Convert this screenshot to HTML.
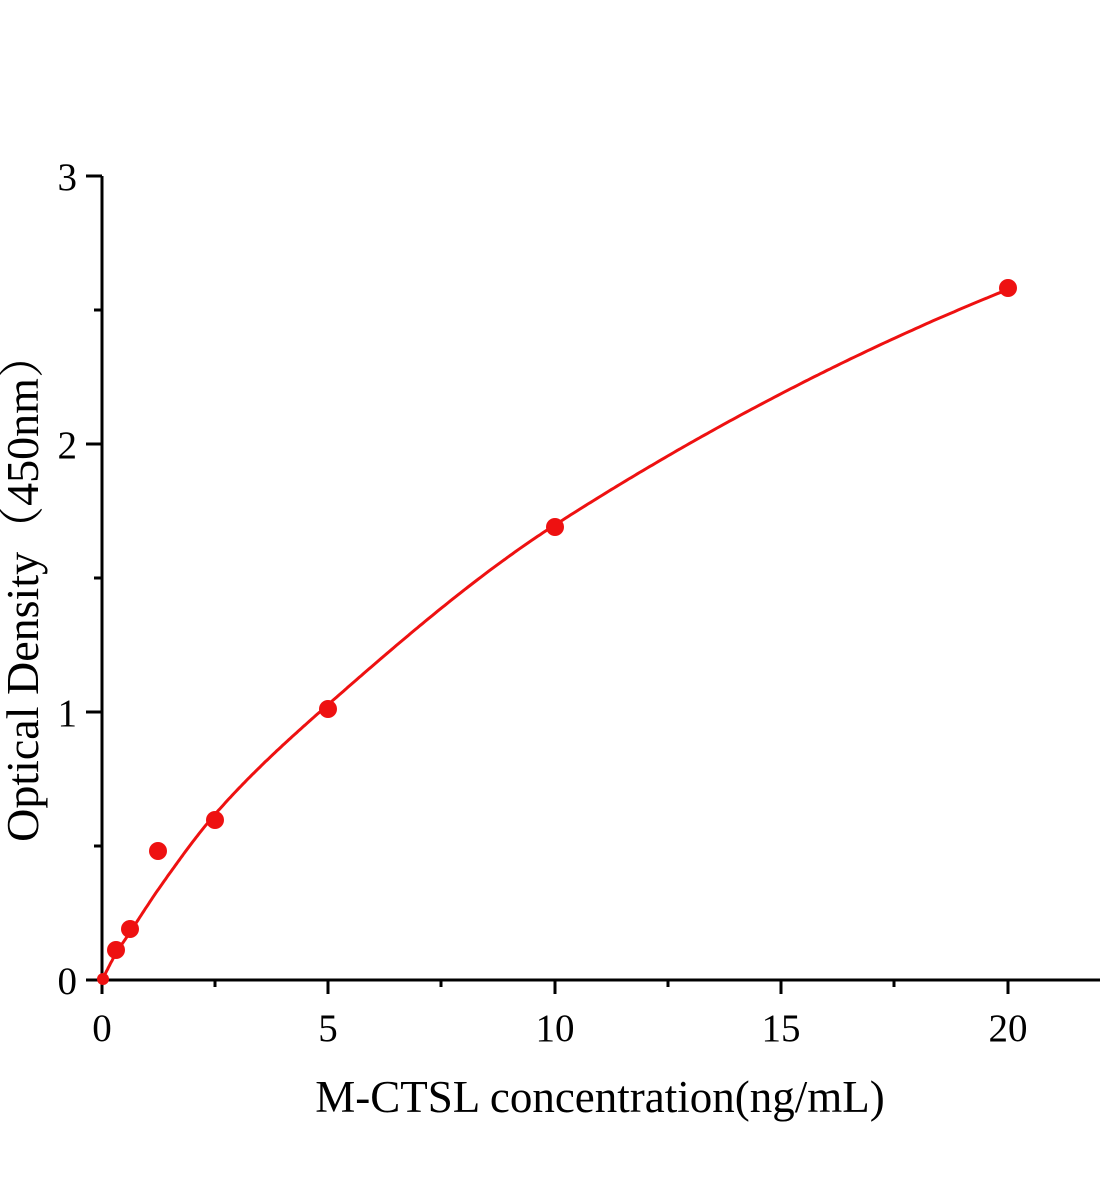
<!DOCTYPE html>
<html><head><meta charset="utf-8"><style>
html,body{margin:0;padding:0;background:#fff;}
svg{display:block;}
text{font-family:"Liberation Serif","Noto Serif CJK SC",serif;fill:#000;}
</style></head><body>
<svg id="s" width="1104" height="1200" viewBox="0 0 1104 1200" xmlns="http://www.w3.org/2000/svg">
<g stroke="#000" stroke-width="3" fill="none">
<line x1="102" y1="176" x2="102" y2="981"/>
<line x1="100" y1="980" x2="1100" y2="980"/>
<line x1="86" y1="176" x2="102" y2="176"/>
<line x1="86" y1="444" x2="102" y2="444"/>
<line x1="86" y1="712" x2="102" y2="712"/>
<line x1="86" y1="980" x2="102" y2="980"/>
<line x1="94" y1="310" x2="102" y2="310"/>
<line x1="94" y1="578" x2="102" y2="578"/>
<line x1="94" y1="846" x2="102" y2="846"/>
<line x1="102" y1="980" x2="102" y2="994"/>
<line x1="328" y1="980" x2="328" y2="994"/>
<line x1="555" y1="980" x2="555" y2="994"/>
<line x1="781" y1="980" x2="781" y2="994"/>
<line x1="1008" y1="980" x2="1008" y2="994"/>
<line x1="215" y1="980" x2="215" y2="987"/>
<line x1="441" y1="980" x2="441" y2="987"/>
<line x1="668" y1="980" x2="668" y2="987"/>
<line x1="894" y1="980" x2="894" y2="987"/>
</g>
<g font-size="39" text-anchor="end">
<text x="77" y="190">3</text>
<text x="77" y="458">2</text>
<text x="77" y="726">1</text>
<text x="77" y="994">0</text>
</g>
<g font-size="39" text-anchor="middle">
<text x="102" y="1041">0</text>
<text x="328" y="1041">5</text>
<text x="555" y="1041">10</text>
<text x="781" y="1041">15</text>
<text x="1008" y="1041">20</text>
</g>
<text x="600" y="1112" font-size="45" text-anchor="middle">M-CTSL concentration(ng/mL)</text>
<text transform="translate(38,587) rotate(-90)" font-size="46" text-anchor="middle">Optical Density（450nm）</text>
<path id="c" d="" stroke="#ee1111" stroke-width="3" fill="none"/>
<g fill="#ee1111">
<circle cx="103" cy="979" r="6"/>
<circle cx="116" cy="950" r="9"/>
<circle cx="130" cy="929" r="9"/>
<circle cx="158" cy="851" r="9"/>
<circle cx="215" cy="820" r="9"/>
<circle cx="328" cy="709" r="9"/>
<circle cx="555" cy="527" r="9"/>
<circle cx="1008" cy="288" r="9"/>
</g>
</svg>
<script>
var xs=[0,0.3125,0.625,1.25,2.5,5,10,20];
var ys=[0,0.10,0.18,0.34,0.62,1.03,1.70,2.58];
var n=xs.length,dl=[],m=[];
for(var i=0;i<n-1;i++)dl.push((ys[i+1]-ys[i])/(xs[i+1]-xs[i]));
m[0]=dl[0];m[n-1]=0.068;
for(var i=1;i<n-1;i++){var h0=xs[i]-xs[i-1],h1=xs[i+1]-xs[i];m[i]=(3*(h0+h1))/((2*h1+h0)/dl[i-1]+(h1+2*h0)/dl[i]);}
function f(x){var i=0;while(i<n-2&&x>xs[i+1])i++;var h=xs[i+1]-xs[i],t=(x-xs[i])/h;
var t2=t*t,t3=t2*t;return (2*t3-3*t2+1)*ys[i]+(t3-2*t2+t)*h*m[i]+(-2*t3+3*t2)*ys[i+1]+(t3-t2)*h*m[i+1];}
var d="";
for(var k=0;k<=400;k++){var x=20*Math.pow(k/400,1.6);var px=102+x*45.3,py=980-f(x)*267.7;d+=(k?"L":"M")+px.toFixed(1)+","+py.toFixed(1);}
document.getElementById("c").setAttribute("d",d);
</script>
</body></html>
